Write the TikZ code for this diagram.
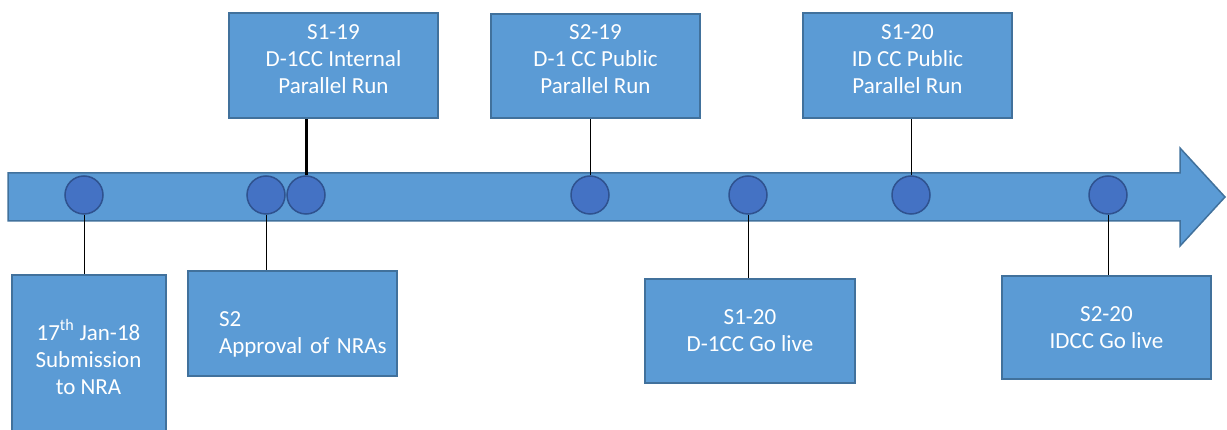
\documentclass[tikz,border=0pt]{standalone}
\usepackage{fontspec}
\setmainfont{Carlito}
\usetikzlibrary{calc}
\definecolor{boxfill}{HTML}{5B9BD5}
\definecolor{boxline}{HTML}{41719C}
\definecolor{dotfill}{HTML}{4472C4}
\definecolor{dotline}{HTML}{2F528F}
\begin{document}
\begin{tikzpicture}[x=1pt,y=-1pt,
  milestone/.style={draw=boxline, line width=2pt, fill=boxfill, text=white, align=center,
    inner sep=0pt, font=\fontsize{23}{27}\selectfont},
  dot/.style={circle, draw=dotline, line width=1.5pt, fill=dotfill, minimum size=38pt, inner sep=0pt},
  tick/.style={black, line width=0.8pt}]
\useasboundingbox (0,0) rectangle (1227,430);
% timeline arrow
\draw[boxline, line width=1.5pt, fill=boxfill] (8,173) -- (1180,173) -- (1180,148) -- (1225,197)
  -- (1180,246) -- (1180,221) -- (8,221) -- cycle;
\node[dot] (d1) at (84,195) {};
\node[dot] (d2) at (266,195) {};
\node[dot] (d3) at (306,195) {};
\node[dot] (d4) at (590,195) {};
\node[dot] (d5) at (748,195) {};
\node[dot] (d6) at (911,195) {};
\node[dot] (d7) at (1108,195) {};
% boxes below
\node[milestone, minimum width=154pt, minimum height=164pt] (sub) at (88.5,357)
  {17\textsuperscript{th} Jan-18\\Submission\\to NRA};
\node[milestone, align=left, text width=205pt, minimum width=209pt, minimum height=105pt] (appr) at (292.5,323.5)
  {\hspace*{29pt}\rule{0pt}{36pt}S2\\\hspace*{29pt}Approval of~NRAs};
\node[milestone, minimum width=210pt, minimum height=104pt] (golive) at (750,331)
  {S1-20\\D-1CC Go live};
\node[milestone, minimum width=209pt, minimum height=103pt] (idgo) at (1106.5,327.5)
  {S2-20\\IDCC Go live};
% boxes above
\node[milestone, minimum width=209pt, minimum height=105pt] (intrun) at (333.5,65.5)
  {S1-19\\D-1CC Internal\\Parallel Run\rule[-13pt]{0pt}{0pt}};
\node[milestone, minimum width=209pt, minimum height=104pt] (pubrun) at (595.5,66)
  {S2-19\\D-1 CC Public\\Parallel Run\rule[-13pt]{0pt}{0pt}};
\node[milestone, minimum width=209pt, minimum height=105pt] (idrun) at (907.5,65.5)
  {S1-20\\ID CC Public\\Parallel Run\rule[-13pt]{0pt}{0pt}};
% connectors
\draw[tick] (d1.south) -- (d1.south |- sub.north);
\draw[tick] (d2.south) -- (d2.south |- appr.north);
\draw[black, line width=3pt] (d3.north) -- (d3.north |- intrun.south);
\draw[tick] (d4.north) -- (d4.north |- pubrun.south);
\draw[tick] (d5.south) -- (d5.south |- golive.north);
\draw[tick] (d6.north) -- (d6.north |- idrun.south);
\draw[tick] (d7.south) -- (d7.south |- idgo.north);
\end{tikzpicture}
\end{document}
